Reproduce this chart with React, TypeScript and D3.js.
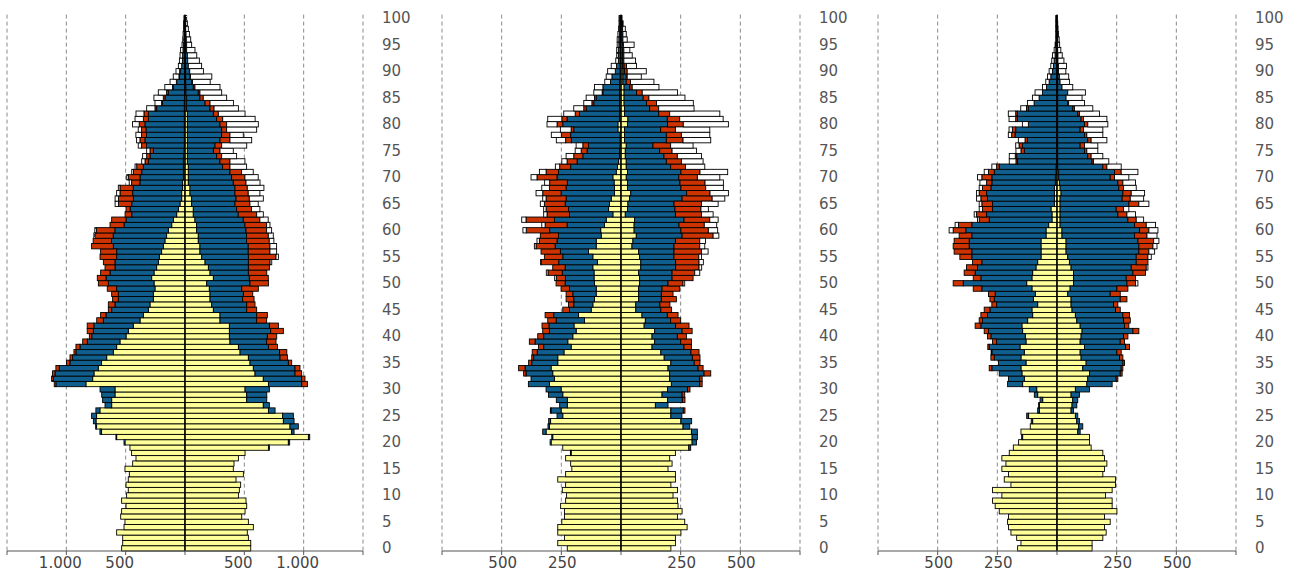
import React from "react";
import * as d3 from "d3";

// ages 0..100, one bar per year
const ages = d3.range(0, 101);
const ageTicks = [0, 5, 10, 15, 20, 25, 30, 35, 40, 45, 50, 55, 60, 65, 70, 75, 80, 85, 90, 95, 100];
const statusKeys = ["single", "married", "divorced", "widowed"];
const statusColors = ["#ffff99", "#105e8d", "#cc3300", "#ffffff"];

const p1Ticks = [-1500, -1000, -500, 0, 500, 1000, 1500];
const p1TickLabels = ["", "1.000", "500", "", "500", "1.000", ""];
const p23Ticks = [-750, -500, -250, 0, 250, 500, 750];
const p23TickLabels = ["", "500", "250", "", "250", "500", ""];

// ---------- pyramid 1 ----------
const p1MaleSingle = [
  534, 525, 525, 576, 514, 506, 542, 534, 497, 534,
  492, 478, 497, 478, 469, 506, 441, 413, 450, 464,
  506, 576, 703, 745, 750, 745, 717, 618, 618, 590,
  590, 835, 778, 767, 731, 703, 660, 604, 576, 548,
  497, 478, 436, 379, 351, 309, 295, 267, 267, 253,
  261, 281, 261, 239, 225, 216, 197, 183, 169, 155,
  141, 112, 98, 70, 56, 42, 28, 28, 20, 20,
  14, 14, 14, 14, 11, 8, 6, 6, 6, 6,
  6, 6, 6, 6, 6, 3, 3, 3, 3, 3,
  3, 3, 0, 0, 0, 0, 0, 0, 0, 0,
  0,
];
const p1MaleMarried = [
  0, 0, 0, 0, 0, 0, 0, 0, 0, 0,
  0, 0, 0, 0, 0, 0, 0, 0, 0, 0,
  8, 6, 14, 8, 22, 42, 34, 56, 76, 112,
  126, 253, 332, 329, 329, 267, 287, 315, 309, 275,
  289, 295, 332, 309, 315, 309, 295, 295, 295, 323,
  385, 385, 371, 351, 365, 360, 379, 421, 450, 450,
  450, 402, 399, 379, 407, 407, 407, 413, 416, 360,
  365, 351, 337, 295, 284, 259, 318, 332, 318, 323,
  332, 303, 303, 233, 183, 166, 138, 96, 67, 45,
  39, 25, 22, 20, 17, 14, 11, 8, 6, 6,
  3,
];
const p1MaleDivorced = [
  0, 0, 0, 0, 0, 0, 0, 0, 0, 0,
  0, 0, 0, 0, 0, 0, 0, 0, 0, 0,
  0, 0, 0, 0, 0, 0, 0, 0, 0, 0,
  0, 14, 14, 20, 28, 28, 22, 17, 34, 39,
  20, 51, 56, 56, 45, 28, 56, 48, 56, 79,
  84, 73, 79, 84, 98, 140, 135, 183, 155, 155,
  155, 118, 121, 56, 34, 112, 126, 107, 112, 70,
  98, 70, 56, 28, 28, 28, 42, 42, 42, 37,
  48, 42, 37, 14, 8, 14, 14, 6, 3, 3,
  3, 0, 0, 0, 0, 0, 0, 0, 0, 0,
  0,
];
const p1MaleWidowed = [
  0, 0, 0, 0, 0, 0, 0, 0, 0, 0,
  0, 0, 0, 0, 0, 0, 0, 0, 0, 0,
  0, 0, 0, 0, 0, 0, 0, 0, 0, 0,
  0, 0, 0, 0, 0, 0, 0, 0, 0, 0,
  0, 0, 0, 0, 0, 0, 0, 0, 0, 0,
  0, 0, 0, 0, 0, 0, 0, 0, 0, 8,
  14, 0, 0, 0, 0, 28, 28, 28, 14, 20,
  14, 14, 14, 28, 34, 28, 28, 28, 48, 28,
  56, 70, 67, 70, 56, 79, 70, 65, 53, 48,
  31, 28, 25, 22, 20, 11, 8, 8, 6, 6,
  6,
];
const p1FemaleSingle = [
  554, 554, 534, 525, 576, 534, 478, 506, 520, 514,
  450, 458, 469, 430, 492, 407, 413, 450, 506, 703,
  871, 1040, 899, 885, 829, 823, 703, 660, 520, 520,
  506, 703, 660, 590, 576, 548, 534, 464, 450, 379,
  374, 374, 374, 295, 295, 239, 225, 211, 211, 205,
  183, 239, 211, 197, 169, 141, 126, 126, 112, 112,
  98, 98, 84, 70, 70, 56, 56, 42, 42, 28,
  28, 28, 28, 20, 20, 20, 20, 20, 20, 20,
  20, 20, 20, 14, 14, 14, 8, 8, 6, 6,
  6, 6, 3, 3, 3, 3, 3, 3, 3, 3,
  3,
];
const p1FemaleMarried = [
  0, 0, 0, 0, 0, 0, 0, 0, 0, 0,
  0, 0, 0, 0, 0, 0, 0, 0, 0, 8,
  11, 11, 20, 70, 90, 90, 56, 51, 169, 169,
  205, 281, 323, 337, 351, 323, 267, 332, 253, 309,
  320, 348, 337, 309, 309, 281, 295, 275, 281, 273,
  365, 303, 323, 337, 365, 393, 407, 407, 407, 407,
  416, 407, 407, 379, 365, 365, 374, 379, 379, 379,
  365, 351, 289, 275, 247, 219, 233, 275, 289, 289,
  275, 247, 219, 197, 155, 112, 104, 62, 51, 37,
  31, 22, 20, 17, 11, 11, 8, 6, 3, 3,
  3,
];
const p1FemaleDivorced = [
  0, 0, 0, 0, 0, 0, 0, 0, 0, 0,
  0, 0, 0, 0, 0, 0, 0, 0, 0, 0,
  0, 0, 0, 0, 0, 0, 0, 0, 0, 0,
  0, 48, 28, 56, 42, 28, 62, 62, 76, 79,
  79, 107, 76, 84, 90, 84, 70, 96, 79, 140,
  155, 160, 155, 177, 183, 233, 183, 183, 191, 183,
  174, 183, 140, 155, 126, 126, 112, 112, 104, 107,
  112, 98, 62, 84, 42, 56, 56, 84, 70, 42,
  56, 51, 42, 34, 42, 28, 14, 14, 6, 3,
  3, 0, 0, 0, 0, 0, 0, 0, 0, 0,
  0,
];
const p1FemaleWidowed = [
  0, 0, 0, 0, 0, 0, 0, 0, 0, 0,
  0, 0, 0, 0, 0, 0, 0, 0, 0, 0,
  0, 0, 0, 0, 0, 0, 0, 0, 0, 0,
  0, 0, 0, 0, 0, 0, 0, 0, 0, 0,
  0, 0, 0, 0, 0, 0, 0, 0, 0, 0,
  0, 0, 0, 0, 14, 20, 56, 56, 39, 42,
  42, 28, 70, 56, 70, 70, 118, 98, 140, 118,
  112, 98, 140, 126, 126, 112, 211, 183, 112, 253,
  267, 273, 225, 205, 197, 197, 183, 211, 149, 180,
  115, 112, 98, 79, 70, 42, 37, 28, 22, 14,
  8,
];

// ---------- pyramid 2 ----------
const p2MaleSingle = [
  225, 265, 237, 265, 265, 248, 237, 237, 253, 232,
  228, 246, 232, 265, 232, 206, 211, 232, 209, 244,
  293, 286, 314, 300, 295, 244, 251, 225, 225, 244,
  251, 300, 279, 286, 293, 265, 265, 239, 209, 223,
  202, 188, 197, 153, 178, 125, 118, 111, 104, 104,
  111, 113, 113, 118, 99, 118, 136, 104, 104, 83,
  85, 69, 62, 34, 52, 48, 41, 27, 27, 29,
  34, 20, 15, 10, 6, 6, 4, 4, 4, 13,
  13, 6, 6, 6, 6, 6, 6, 6, 6, 4,
  4, 4, 3, 3, 3, 3, 3, 3, 3, 3,
  3,
];
const p2MaleMarried = [
  0, 0, 0, 0, 0, 0, 0, 0, 0, 0,
  0, 0, 0, 0, 0, 0, 0, 0, 3, 0,
  4, 4, 14, 6, 8, 24, 42, 32, 46, 60,
  63, 88, 98, 112, 109, 109, 101, 112, 115, 137,
  122, 112, 105, 119, 104, 91, 80, 87, 98, 112,
  123, 120, 133, 116, 162, 126, 118, 172, 164, 179,
  214, 157, 217, 182, 168, 186, 189, 224, 203, 196,
  234, 242, 196, 174, 154, 136, 132, 204, 207, 185,
  231, 220, 168, 140, 108, 98, 70, 70, 38, 34,
  20, 15, 8, 8, 8, 6, 6, 4, 4, 4,
  4,
];
const p2MaleDivorced = [
  0, 0, 0, 0, 0, 0, 0, 0, 0, 0,
  0, 0, 0, 0, 0, 0, 0, 0, 0, 0,
  0, 0, 0, 0, 0, 0, 3, 0, 0, 0,
  0, 0, 0, 10, 27, 13, 8, 21, 22, 24,
  25, 28, 29, 35, 36, 28, 22, 32, 28, 35,
  38, 38, 60, 52, 73, 77, 81, 80, 74, 76,
  98, 92, 119, 94, 94, 87, 84, 77, 70, 74,
  84, 52, 46, 42, 38, 25, 24, 24, 39, 11,
  24, 22, 18, 10, 8, 7, 3, 0, 0, 0,
  0, 0, 0, 0, 0, 0, 0, 0, 0, 0,
  0,
];
const p2MaleWidowed = [
  0, 0, 0, 0, 0, 0, 0, 0, 0, 0,
  0, 0, 0, 0, 0, 0, 0, 0, 0, 0,
  0, 0, 0, 0, 0, 0, 0, 0, 0, 0,
  0, 0, 0, 0, 0, 0, 0, 0, 0, 0,
  0, 0, 0, 0, 0, 0, 0, 0, 0, 0,
  0, 7, 7, 0, 3, 0, 0, 7, 10, 0,
  14, 14, 18, 14, 10, 17, 14, 28, 32, 21,
  25, 28, 18, 22, 32, 25, 28, 39, 42, 45,
  42, 59, 48, 42, 34, 35, 35, 35, 24, 24,
  32, 22, 11, 7, 7, 7, 7, 6, 3, 1,
  1,
];
const p2FemaleSingle = [
  209, 228, 228, 251, 277, 267, 237, 256, 239, 237,
  218, 237, 209, 228, 228, 197, 214, 204, 228, 284,
  298, 298, 295, 260, 251, 209, 209, 144, 195, 172,
  195, 211, 204, 204, 197, 209, 181, 167, 130, 141,
  130, 141, 97, 102, 88, 62, 62, 74, 74, 74,
  78, 78, 74, 83, 83, 78, 74, 46, 50, 64,
  55, 55, 57, 18, 27, 29, 36, 41, 27, 27,
  22, 27, 22, 22, 18, 18, 22, 15, 15, 15,
  27, 29, 15, 15, 13, 13, 13, 13, 8, 8,
  8, 6, 6, 6, 6, 6, 4, 4, 4, 3,
  3,
];
const p2FemaleMarried = [
  0, 0, 0, 0, 0, 0, 0, 0, 0, 0,
  0, 0, 0, 0, 0, 0, 0, 0, 0, 8,
  18, 22, 25, 28, 45, 46, 52, 53, 62, 84,
  84, 119, 126, 144, 126, 98, 118, 126, 134, 109,
  106, 115, 132, 106, 106, 105, 101, 95, 95, 98,
  119, 136, 140, 146, 146, 144, 148, 176, 178, 192,
  196, 188, 207, 210, 199, 193, 220, 234, 224, 220,
  220, 224, 186, 168, 162, 144, 112, 175, 175, 151,
  168, 165, 143, 105, 94, 80, 52, 24, 14, 14,
  7, 7, 6, 6, 6, 4, 4, 4, 3, 3,
  1,
];
const p2FemaleDivorced = [
  0, 0, 0, 0, 0, 0, 0, 0, 0, 0,
  0, 0, 0, 0, 0, 0, 0, 0, 0, 0,
  0, 0, 0, 0, 0, 0, 7, 0, 11, 11,
  10, 10, 10, 28, 21, 24, 32, 34, 31, 45,
  38, 42, 56, 42, 45, 45, 42, 63, 49, 74,
  63, 88, 95, 98, 98, 104, 115, 108, 102, 130,
  115, 106, 108, 109, 109, 115, 126, 98, 104, 105,
  78, 80, 62, 63, 56, 52, 74, 70, 63, 62,
  66, 52, 46, 38, 42, 24, 24, 10, 18, 4,
  11, 10, 0, 0, 0, 0, 0, 0, 0, 0,
  0,
];
const p2FemaleWidowed = [
  0, 0, 0, 0, 0, 0, 0, 0, 0, 0,
  0, 0, 0, 0, 0, 0, 0, 0, 0, 0,
  0, 0, 0, 0, 0, 0, 0, 0, 0, 0,
  0, 0, 0, 0, 0, 0, 0, 0, 0, 0,
  0, 0, 0, 0, 0, 0, 0, 0, 0, 0,
  7, 0, 21, 11, 18, 11, 28, 21, 24, 24,
  39, 52, 35, 49, 31, 70, 53, 77, 74, 77,
  94, 116, 81, 91, 101, 102, 94, 116, 119, 144,
  189, 182, 210, 148, 154, 151, 148, 112, 98, 59,
  80, 42, 49, 35, 25, 45, 18, 14, 11, 3,
  0,
];

// ---------- pyramid 3 ----------
const p3MaleSingle = [
  165, 151, 169, 193, 203, 207, 203, 242, 259, 270,
  231, 270, 193, 221, 203, 231, 214, 231, 200, 183,
  161, 144, 151, 112, 102, 119, 74, 74, 60, 81,
  85, 144, 137, 147, 151, 130, 151, 137, 155, 130,
  133, 144, 147, 123, 102, 105, 81, 99, 91, 105,
  127, 105, 102, 88, 81, 67, 67, 67, 67, 46,
  46, 35, 21, 21, 25, 11, 11, 11, 11, 7,
  7, 4, 4, 1, 1, 1, 1, 1, 1, 1,
  1, 1, 1, 1, 1, 1, 1, 1, 1, 1,
  1, 1, 1, 1, 1, 1, 1, 1, 1, 1,
  1,
];
const p3MaleMarried = [
  0, 0, 0, 0, 0, 0, 0, 0, 0, 0,
  0, 0, 0, 0, 0, 0, 0, 0, 0, 0,
  0, 4, 0, 0, 6, 8, 7, 3, 11, 14,
  31, 63, 66, 95, 122, 115, 112, 136, 129, 123,
  144, 143, 172, 189, 189, 176, 172, 164, 168, 210,
  266, 214, 241, 245, 234, 290, 290, 301, 301, 311,
  336, 322, 263, 274, 245, 259, 280, 284, 266, 266,
  266, 259, 238, 164, 168, 136, 144, 123, 175, 172,
  119, 165, 165, 119, 95, 74, 60, 43, 32, 25,
  18, 14, 11, 7, 4, 4, 3, 3, 3, 3,
  3,
];
const p3MaleDivorced = [
  0, 0, 0, 0, 0, 0, 0, 0, 0, 0,
  0, 0, 0, 0, 0, 0, 0, 0, 0, 0,
  0, 0, 0, 0, 0, 0, 0, 0, 0, 0,
  0, 0, 0, 0, 11, 0, 14, 3, 6, 17,
  14, 18, 24, 14, 28, 24, 20, 18, 28, 36,
  42, 32, 46, 46, 39, 50, 74, 67, 63, 53,
  53, 56, 42, 42, 42, 45, 28, 31, 35, 22,
  42, 24, 11, 7, 6, 14, 14, 10, 14, 14,
  0, 7, 7, 8, 0, 0, 0, 0, 0, 0,
  0, 0, 0, 0, 0, 0, 0, 0, 0, 0,
  0,
];
const p3MaleWidowed = [
  0, 0, 0, 0, 0, 0, 0, 0, 0, 0,
  0, 0, 0, 0, 0, 0, 0, 0, 0, 0,
  0, 0, 0, 0, 0, 0, 0, 0, 0, 0,
  0, 0, 0, 0, 0, 0, 0, 0, 0, 0,
  0, 0, 0, 0, 0, 0, 0, 0, 0, 0,
  0, 0, 0, 0, 0, 0, 0, 0, 0, 0,
  17, 14, 7, 10, 14, 11, 18, 11, 14, 28,
  18, 18, 20, 28, 25, 21, 14, 28, 14, 14,
  25, 28, 31, 24, 28, 28, 31, 17, 14, 14,
  14, 11, 10, 11, 7, 3, 1, 1, 1, 1,
  1,
];
const p3FemaleSingle = [
  147, 147, 192, 206, 199, 223, 199, 251, 231, 231,
  203, 231, 245, 245, 192, 199, 209, 199, 192, 143,
  136, 136, 87, 91, 83, 77, 59, 63, 66, 59,
  77, 125, 129, 136, 108, 122, 101, 97, 115, 97,
  101, 105, 97, 83, 77, 63, 59, 59, 45, 55,
  69, 69, 69, 59, 52, 45, 38, 38, 38, 21,
  21, 13, 13, 13, 13, 13, 13, 17, 13, 10,
  7, 7, 3, 3, 3, 3, 3, 3, 3, 3,
  3, 3, 3, 3, 3, 3, 3, 3, 3, 3,
  3, 3, 3, 3, 3, 3, 3, 3, 3, 3,
  1,
];
const p3FemaleMarried = [
  0, 0, 0, 0, 0, 0, 0, 0, 0, 0,
  0, 0, 0, 0, 0, 0, 0, 0, 0, 0,
  0, 0, 10, 17, 11, 10, 10, 20, 21, 35,
  59, 106, 119, 129, 161, 154, 161, 154, 172, 168,
  178, 213, 186, 196, 199, 182, 178, 206, 178, 196,
  224, 221, 249, 252, 280, 287, 305, 305, 301, 304,
  325, 312, 284, 242, 235, 288, 260, 259, 246, 245,
  216, 234, 189, 144, 126, 112, 94, 126, 112, 94,
  112, 98, 84, 63, 42, 35, 42, 18, 10, 7,
  3, 3, 1, 1, 0, 0, 0, 0, 0, 0,
  0,
];
const p3FemaleDivorced = [
  0, 0, 0, 0, 0, 0, 0, 0, 0, 0,
  0, 0, 0, 0, 0, 0, 0, 0, 0, 0,
  0, 0, 0, 0, 0, 0, 0, 0, 0, 0,
  0, 0, 7, 8, 7, 7, 14, 18, 17, 18,
  18, 25, 18, 28, 28, 20, 18, 28, 42, 46,
  36, 39, 53, 63, 49, 49, 42, 59, 66, 52,
  39, 49, 35, 38, 31, 42, 34, 35, 20, 21,
  18, 28, 17, 6, 14, 10, 18, 14, 10, 14,
  14, 10, 7, 7, 4, 0, 0, 0, 0, 0,
  0, 0, 0, 0, 0, 0, 0, 0, 0, 0,
  0,
];
const p3FemaleWidowed = [
  0, 0, 0, 0, 0, 0, 0, 0, 0, 0,
  0, 0, 0, 0, 0, 0, 0, 0, 0, 0,
  0, 0, 0, 0, 0, 0, 0, 0, 0, 0,
  0, 0, 0, 0, 0, 0, 0, 0, 0, 0,
  0, 0, 0, 0, 0, 0, 0, 0, 0, 0,
  10, 0, 0, 7, 0, 14, 24, 17, 22, 42,
  38, 39, 31, 36, 22, 42, 56, 56, 53, 53,
  60, 70, 60, 64, 49, 46, 56, 66, 67, 81,
  84, 98, 84, 77, 66, 67, 74, 45, 39, 39,
  31, 34, 25, 18, 13, 8, 6, 3, 1, 0,
  0,
];

type Panel = {
  max: number;
  x0: number;
  x1: number;
  ticks: number[];
  tickLabels: string[];
  labelDx: number;
  male: number[][];
  female: number[][];
};

const panels: Panel[] = [
  {
    max: 1500, x0: 7, x1: 363, ticks: p1Ticks, tickLabels: p1TickLabels, labelDx: -6,
    male: [p1MaleSingle, p1MaleMarried, p1MaleDivorced, p1MaleWidowed],
    female: [p1FemaleSingle, p1FemaleMarried, p1FemaleDivorced, p1FemaleWidowed],
  },
  {
    max: 750, x0: 442, x1: 800, ticks: p23Ticks, tickLabels: p23TickLabels, labelDx: 1,
    male: [p2MaleSingle, p2MaleMarried, p2MaleDivorced, p2MaleWidowed],
    female: [p2FemaleSingle, p2FemaleMarried, p2FemaleDivorced, p2FemaleWidowed],
  },
  {
    max: 750, x0: 878, x1: 1236, ticks: p23Ticks, tickLabels: p23TickLabels, labelDx: 1,
    male: [p3MaleSingle, p3MaleMarried, p3MaleDivorced, p3MaleWidowed],
    female: [p3FemaleSingle, p3FemaleMarried, p3FemaleDivorced, p3FemaleWidowed],
  },
];

const TOP = 15.6;
const BASE = 551;

const y = d3.scaleBand<number>().domain(ages.slice().reverse()).range([TOP, BASE]).padding(0);

function stackSide(cols: number[][]) {
  const rows = ages.map((_, i) => {
    const r: Record<string, number> = {};
    statusKeys.forEach((k, j) => (r[k] = cols[j][i]));
    return r;
  });
  return d3.stack<Record<string, number>>().keys(statusKeys)(rows);
}

function Pyramid({ p }: { p: Panel }) {
  const x = d3.scaleLinear().domain([-p.max, p.max]).range([p.x0, p.x1]);
  const men = stackSide(p.male);
  const women = stackSide(p.female);
  const bw = y.bandwidth();

  return (
    <g>
      {p.ticks.filter((t) => t !== 0).map((t) => (
        <line key={"g" + t} x1={x(t)} x2={x(t)} y1={TOP - 1} y2={BASE} stroke="#8a8a8a" strokeDasharray="4,3" />
      ))}

      {men.map((s, si) =>
        s.map((d, i) =>
          d[1] - d[0] > 0 ? (
            <rect key={`m${si}-${i}`} x={x(-d[1])} width={x(-d[0]) - x(-d[1])} y={y(ages[i])} height={bw}
              fill={statusColors[si]} stroke="#000" strokeWidth={0.9} />
          ) : null
        )
      )}
      {women.map((s, si) =>
        s.map((d, i) =>
          d[1] - d[0] > 0 ? (
            <rect key={`f${si}-${i}`} x={x(d[0])} width={x(d[1]) - x(d[0])} y={y(ages[i])} height={bw}
              fill={statusColors[si]} stroke="#000" strokeWidth={0.9} />
          ) : null
        )
      )}

      <line x1={x(0)} x2={x(0)} y1={TOP - 1} y2={BASE} stroke="#000" strokeWidth={1.3} />

      <line x1={p.x0} x2={p.x1} y1={BASE} y2={BASE} stroke="#555" />
      {p.ticks.map((t, i) => (
        <g key={"t" + t}>
          <line x1={x(t)} x2={x(t)} y1={BASE} y2={BASE + 4} stroke="#555" />
          <text x={x(t) + p.labelDx} y={568} textAnchor="middle" fontSize={15} fill="#444">
            {p.tickLabels[i]}
          </text>
        </g>
      ))}

      {ageTicks.map((a) => (
        <text key={"a" + a} x={p.x1 + 19} y={(y(a) as number) + bw / 2} dominantBaseline="central" fontSize={15} fill="#555">
          {a}
        </text>
      ))}
    </g>
  );
}

export default function App() {
  return (
    <svg width={1296} height={573} style={{ position: "absolute", left: 0, top: 0, background: "#fff" }}
      fontFamily="'DejaVu Sans', Verdana, sans-serif">
      {panels.map((p, i) => (
        <Pyramid key={i} p={p} />
      ))}
    </svg>
  );
}
